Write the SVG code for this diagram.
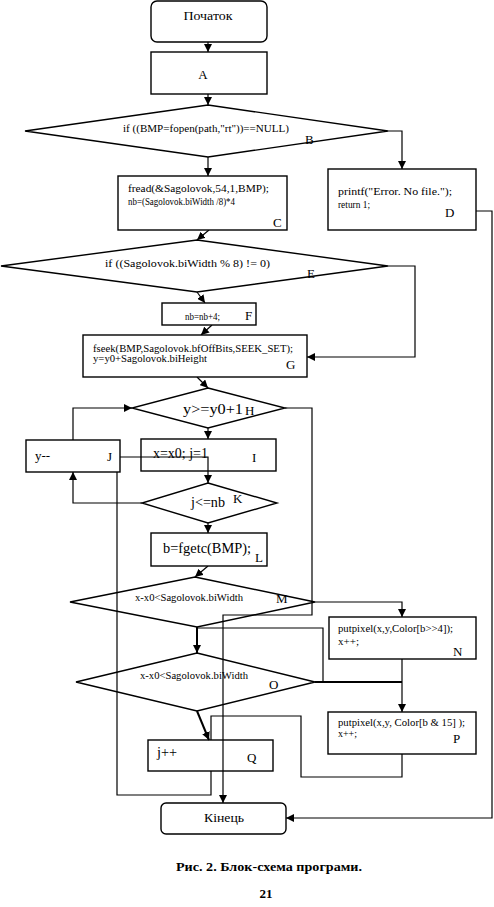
<svg xmlns="http://www.w3.org/2000/svg" width="494" height="907" viewBox="0 0 494 907">
<style>
.b{fill:#fff;stroke:#000;stroke-width:1.4}
.c{fill:none;stroke:#000;stroke-width:1.2}
.k{fill:none;stroke:#000;stroke-width:2}
text{font-family:"Liberation Serif","Times New Roman",serif;fill:#000}
.s{font-size:10px}
.m{font-size:13px}
.l{font-size:13px}
.h{font-size:14px}
</style>
<defs>
<marker id="a" viewBox="0 0 10 10" refX="10" refY="5" markerWidth="8" markerHeight="8" markerUnits="userSpaceOnUse" orient="auto"><path d="M0,0 L10,5 L0,10 z" fill="#000"/></marker>
</defs>
<rect width="494" height="907" fill="#fff"/>
<g id="connectors">
<path class="c" d="M208,42 V52" marker-end="url(#a)"/>
<path class="c" d="M208,94 V105" marker-end="url(#a)"/>
<path class="c" d="M208,157 V176" marker-end="url(#a)"/>
<path class="c" d="M388,131 H402 V169" marker-end="url(#a)"/>
<path class="c" d="M209,230 L197,240" marker-end="url(#a)"/>
<path class="c" d="M197,292 L205,303" marker-end="url(#a)"/>
<path class="c" d="M388,266 H415 V357 H307" marker-end="url(#a)"/>
<path class="c" d="M212,325 L201,335" marker-end="url(#a)"/>
<path class="c" d="M197,377 L208,388" marker-end="url(#a)"/>
<path class="c" d="M208,428 V439" marker-end="url(#a)"/>
<path class="c" d="M120,457 H208 V483" marker-end="url(#a)"/>
<path class="c" d="M142,503 H73 V472" marker-end="url(#a)"/>
<path class="c" d="M73,440 V408 H132" marker-end="url(#a)"/>
<path class="c" d="M208,523 V533" marker-end="url(#a)"/>
<path class="c" d="M208,566 L195,577" marker-end="url(#a)"/>
<path class="c" d="M315,602 H402 V617" marker-end="url(#a)"/>
<path class="k" d="M197,627 V653" marker-end="url(#a)"/>
<path class="c" d="M197,628 H323 V682"/>
<path class="k" d="M315,682 H402"/>
<path class="c" d="M402,659 V712" marker-end="url(#a)"/>
<path class="k" d="M197,711 L209,740" marker-end="url(#a)"/>
<path class="c" d="M402,754 V777 H301 V716 H211 V740"/>
<path class="c" d="M211,771 V795 H117 V472"/>
<path class="c" d="M285,408 H312 V615 H223 V803" marker-end="url(#a)"/>
<path class="c" d="M476,211 H492 V818 H286" marker-end="url(#a)"/>
</g>
<g id="start">
<rect class="b" x="151" y="1" width="116" height="41" rx="6"/>
<text class="m" x="208" y="20" text-anchor="middle" textLength="49" lengthAdjust="spacingAndGlyphs">Початок</text>
</g>
<g id="A">
<rect class="b" x="151" y="52" width="116" height="42"/>
<text class="m" x="203" y="79" text-anchor="middle">A</text>
</g>
<g id="B">
<polygon class="b" points="208,105 388,131 208,157 25,131"/>
<text class="s" x="123" y="132" textLength="166" lengthAdjust="spacingAndGlyphs">if ((BMP=fopen(path,"rt"))==NULL)</text>
<text class="l" x="305" y="144">B</text>
</g>
<g id="C">
<rect class="b" x="118" y="176" width="169" height="54"/>
<text class="s" x="128" y="192" textLength="141" lengthAdjust="spacingAndGlyphs">fread(&amp;Sagolovok,54,1,BMP);</text>
<text class="s" x="128" y="205" textLength="107" lengthAdjust="spacingAndGlyphs">nb=(Sagolovok.biWidth /8)*4</text>
<text class="l" x="273" y="227">C</text>
</g>
<g id="D">
<rect class="b" x="328" y="169" width="148" height="61"/>
<text class="s" x="338" y="195" textLength="114" lengthAdjust="spacingAndGlyphs">printf("Error. No file.");</text>
<text class="s" x="338" y="208" textLength="32" lengthAdjust="spacingAndGlyphs">return 1;</text>
<text class="l" x="445" y="217">D</text>
</g>
<g id="E">
<polygon class="b" points="197,240 388,266 197,292 1,266"/>
<text class="s" x="105" y="267" textLength="165" lengthAdjust="spacingAndGlyphs">if ((Sagolovok.biWidth % 8) != 0)</text>
<text class="l" x="307" y="278">E</text>
</g>
<g id="F">
<rect class="b" x="162" y="303" width="94" height="22"/>
<text class="s" x="185" y="320" textLength="35" lengthAdjust="spacingAndGlyphs">nb=nb+4;</text>
<text class="l" x="245" y="320">F</text>
</g>
<g id="G">
<rect class="b" x="83" y="335" width="224" height="42"/>
<text class="s" x="93" y="352" textLength="200" lengthAdjust="spacingAndGlyphs">fseek(BMP,Sagolovok.bfOffBits,SEEK_SET);</text>
<text class="s" x="93" y="362" textLength="114" lengthAdjust="spacingAndGlyphs">y=y0+Sagolovok.biHeight</text>
<text class="l" x="286" y="369">G</text>
</g>
<g id="H">
<polygon class="b" points="208,388 285,408 208,428 132,408"/>
<text class="h" x="183" y="414" textLength="60" lengthAdjust="spacingAndGlyphs">y&gt;=y0+1</text>
<text class="l" x="245" y="415">H</text>
</g>
<g id="I">
<rect class="b" x="141" y="439" width="135" height="32" fill-opacity="0"/>
<text class="h" x="153" y="458" textLength="55" lengthAdjust="spacingAndGlyphs">x=x0; j=1</text>
<text class="l" x="252" y="462">I</text>
</g>
<g id="J">
<rect class="b" x="26" y="440" width="94" height="32"/>
<text class="m" x="35" y="460">y--</text>
<text class="l" x="107" y="461">J</text>
</g>
<g id="K">
<polygon class="b" points="208,483 277,503 208,523 142,503"/>
<text class="h" x="191" y="507" textLength="34" lengthAdjust="spacingAndGlyphs">j&lt;=nb</text>
<text class="l" x="233" y="503">K</text>
</g>
<g id="L">
<rect class="b" x="151" y="533" width="116" height="33"/>
<text class="h" x="163" y="553" textLength="88" lengthAdjust="spacingAndGlyphs">b=fgetc(BMP);</text>
<text class="l" x="255" y="562">L</text>
</g>
<g id="M">
<polygon class="b" points="195,577 315,602 197,627 70,602" fill-opacity="0"/>
<text class="s" x="135" y="601" textLength="108" lengthAdjust="spacingAndGlyphs">x-x0&lt;Sagolovok.biWidth</text>
<text class="l" x="276" y="603">M</text>
</g>
<g id="N">
<rect class="b" x="329" y="617" width="147" height="42"/>
<text class="s" x="338" y="632" textLength="115" lengthAdjust="spacingAndGlyphs">putpixel(x,y,Color[b&gt;&gt;4]);</text>
<text class="s" x="338" y="645" textLength="21" lengthAdjust="spacingAndGlyphs">x++;</text>
<text class="l" x="453" y="656">N</text>
</g>
<g id="O">
<polygon class="b" points="197,653 315,682 197,711 76,682" fill-opacity="0"/>
<text class="s" x="140" y="679" textLength="108" lengthAdjust="spacingAndGlyphs">x-x0&lt;Sagolovok.biWidth</text>
<text class="l" x="269" y="689">O</text>
</g>
<g id="P">
<rect class="b" x="328" y="712" width="148" height="42"/>
<text class="s" x="338" y="726" textLength="127" lengthAdjust="spacingAndGlyphs">putpixel(x,y, Color[b &amp; 15] );</text>
<text class="s" x="338" y="737" textLength="19" lengthAdjust="spacingAndGlyphs">x++;</text>
<text class="l" x="453" y="743">P</text>
</g>
<g id="Q">
<rect class="b" x="148" y="740" width="125" height="31" fill-opacity="0"/>
<text class="h" x="157" y="757" textLength="20" lengthAdjust="spacingAndGlyphs">j++</text>
<text class="l" x="247" y="762">Q</text>
</g>
<g id="end">
<rect class="b" x="161" y="803" width="125" height="31" rx="5"/>
<text class="m" x="224" y="822" text-anchor="middle" textLength="40" lengthAdjust="spacingAndGlyphs">Кінець</text>
</g>
<g id="caption">
<text x="176" y="871" font-size="13" font-weight="bold" textLength="186" lengthAdjust="spacingAndGlyphs">Рис. 2. Блок-схема програми.</text>
<text x="266" y="898" font-size="13" font-weight="bold" text-anchor="middle">21</text>
</g>
</svg>
